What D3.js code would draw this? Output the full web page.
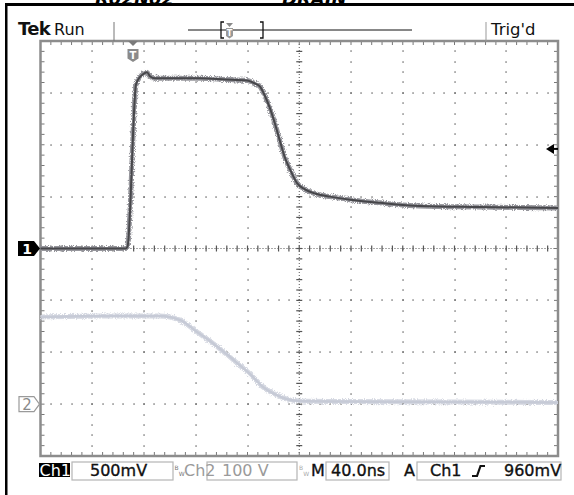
<!DOCTYPE html>
<html>
<head>
<meta charset="utf-8">
<script src="https://cdn.jsdelivr.net/npm/d3@7.9.0/dist/d3.min.js"></script>
<style>
  body { margin: 0; background: #fff; }
  svg { display: block; font-family: "DejaVu Sans", sans-serif; }
</style>
</head>
<body>
<svg id="scope" width="574" height="495"></svg>
<script>
/* ---------- data ---------- */
// time in ns from left edge of graticule (10 div x 40 ns)
const timeDomain = [0, 400];
const ch1Domain = [-2, 2];      // 8 div x 500 mV
const ch2Domain = [-100, 700];  // 8 div x 100 V, ground 3 div below centre

const ch1Time  = [0, 66, 67.3, 73.8, 76.1, 79.2, 82.3, 84.6, 88.5, 104, 123, 142.6, 159.6, 165.8, 169.7, 173.5, 177.4, 181.3, 185.2, 189.1, 193, 198.3, 204.4, 212.2, 223.8, 239.3, 262.4, 293.3, 339.7, 400];
const ch1Volts = [0, 0, 0.02, 1.58, 1.64, 1.68, 1.70, 1.66, 1.64, 1.64, 1.64, 1.63, 1.62, 1.59, 1.56, 1.47, 1.35, 1.20, 1.03, 0.87, 0.76, 0.63, 0.57, 0.53, 0.50, 0.47, 0.44, 0.41, 0.40, 0.39];

const ch2Time  = [0, 46, 92, 108, 121, 133, 144, 154, 162, 172, 183, 190, 201, 232, 400];
const ch2Volts = [168, 170, 170, 162, 139, 118, 96, 75, 58, 33, 17, 10, 6, 5, 3];

const triggerTime = 71.5;
const triggerLevel = 0.96;

const topLabels = { tek: 'Tek', state: 'Run', trig: "Trig'd" };
const cutLabels = ['R02N02', 'DRAIN'];
const ch1Scale = '500mV', ch2Scale = '100 V', timeScale = '40.0ns', trigLevelText = '960mV';

/* ---------- layout ---------- */
const svg = d3.select('#scope');
const plot = { left: 40.5, right: 558, top: 41, bottom: 456 };

const x  = d3.scaleLinear().domain(timeDomain).range([plot.left, plot.right]);
const y1 = d3.scaleLinear().domain(ch1Domain).range([plot.bottom, plot.top]);
const y2 = d3.scaleLinear().domain(ch2Domain).range([plot.bottom, plot.top]);

const defs = svg.append('defs');
const fuzz = defs.append('filter').attr('id', 'fuzz')
  .attr('filterUnits', 'userSpaceOnUse')
  .attr('x', 0).attr('y', 0).attr('width', 574).attr('height', 495);
fuzz.append('feTurbulence').attr('type', 'fractalNoise')
  .attr('baseFrequency', 1.1).attr('numOctaves', 2).attr('seed', 4).attr('result', 'n');
fuzz.append('feDisplacementMap').attr('in', 'SourceGraphic').attr('in2', 'n')
  .attr('scale', 5).attr('xChannelSelector', 'R').attr('yChannelSelector', 'G');

/* ---------- frame of the photo ---------- */
const cut = svg.append('g').attr('font-weight', 'bold').attr('font-style', 'italic').attr('font-size', 18);
cut.append('text').attr('x', 95).attr('y', 4.5).text(cutLabels[0]);
cut.append('text').attr('x', 282).attr('y', 4.5).text(cutLabels[1]);
svg.append('rect').attr('x', 5).attr('y', 3).attr('width', 569).attr('height', 3).attr('fill', '#000');
svg.append('rect').attr('x', 5).attr('y', 3).attr('width', 2.5).attr('height', 492).attr('fill', '#000');

/* ---------- graticule ---------- */
const grid = svg.append('g');
const xMajor = d3.range(timeDomain[0], timeDomain[1] + 1, 40);
const xMinor = d3.range(timeDomain[0], timeDomain[1] + 1, 8);
const yMajor = d3.range(0, 9).map(i => ch1Domain[0] + i * 0.5);
const yMinor = d3.range(0, 41).map(i => ch1Domain[0] + i * 0.1);

const dots = [];
yMajor.slice(1, -1).filter(v => v !== 0).forEach(v =>
  xMinor.slice(1, -1).forEach(t => dots.push([x(t), y1(v)])));
xMajor.slice(1, -1).filter(t => t !== 200).forEach(t =>
  yMinor.slice(1, -1).forEach(v => dots.push([x(t), y1(v)])));
grid.selectAll('rect.dot').data(dots).join('rect').attr('class', 'dot')
  .attr('x', d => Math.round(d[0]) - 0.6).attr('y', d => Math.round(d[1]) - 0.6)
  .attr('width', 1.3).attr('height', 1.3).attr('fill', '#5a5a5a');

// centre cross with fine ticks
const cx = x(200), cy = y1(0);
grid.append('line').attr('x1', cx).attr('x2', cx).attr('y1', plot.top).attr('y2', plot.bottom)
  .attr('stroke', '#555').attr('stroke-width', 1).attr('stroke-dasharray', '1 2');
grid.append('line').attr('y1', cy).attr('y2', cy).attr('x1', plot.left).attr('x2', plot.right)
  .attr('stroke', '#555').attr('stroke-width', 1).attr('stroke-dasharray', '1 2');
grid.selectAll('line.vt').data(yMinor.slice(1, -1)).join('line').attr('class', 'vt')
  .attr('x1', cx - 3).attr('x2', cx + 3).attr('y1', d => y1(d)).attr('y2', d => y1(d))
  .attr('stroke', '#555').attr('stroke-width', 1.2);
grid.selectAll('line.ht').data(xMinor.slice(1, -1)).join('line').attr('class', 'ht')
  .attr('y1', cy - 3).attr('y2', cy + 3).attr('x1', d => x(d)).attr('x2', d => x(d))
  .attr('stroke', '#555').attr('stroke-width', 1.2);

// border ticks
grid.selectAll('line.bt').data(xMinor).join('line').attr('class', 'bt')
  .attr('x1', d => x(d)).attr('x2', d => x(d)).attr('y1', plot.top).attr('y2', plot.top + 4)
  .attr('stroke', '#777');
grid.selectAll('line.bb').data(xMinor).join('line').attr('class', 'bb')
  .attr('x1', d => x(d)).attr('x2', d => x(d)).attr('y1', plot.bottom - 4).attr('y2', plot.bottom)
  .attr('stroke', '#777');
grid.selectAll('line.bl').data(yMinor).join('line').attr('class', 'bl')
  .attr('y1', d => y1(d)).attr('y2', d => y1(d)).attr('x1', plot.left).attr('x2', plot.left + 4)
  .attr('stroke', '#777');
grid.selectAll('line.br').data(yMinor).join('line').attr('class', 'br')
  .attr('y1', d => y1(d)).attr('y2', d => y1(d)).attr('x1', plot.right - 4).attr('x2', plot.right)
  .attr('stroke', '#777');
grid.append('rect').attr('x', plot.left).attr('y', plot.top)
  .attr('width', plot.right - plot.left).attr('height', plot.bottom - plot.top)
  .attr('fill', 'none').attr('stroke', '#8c8c8c').attr('stroke-width', 2.5);

/* ---------- traces ---------- */
const ch2 = ch2Time.map((t, i) => [t, ch2Volts[i]]);
const ch1 = ch1Time.map((t, i) => [t, ch1Volts[i]]);
const line2 = d3.line().x(d => x(d[0])).y(d => y2(d[1])).curve(d3.curveMonotoneX);
const line1 = d3.line().x(d => x(d[0])).y(d => y1(d[1])).curve(d3.curveMonotoneX);

svg.append('path').attr('d', line2(ch2)).attr('fill', 'none')
  .attr('stroke', '#d6d9e2').attr('stroke-width', 5).attr('filter', 'url(#fuzz)');
svg.append('path').attr('d', line2(ch2)).attr('fill', 'none')
  .attr('stroke', '#c6cad6').attr('stroke-width', 2.5);

svg.append('path').attr('d', line1(ch1)).attr('fill', 'none')
  .attr('stroke', '#96969c').attr('stroke-width', 5).attr('filter', 'url(#fuzz)');
svg.append('path').attr('d', line1(ch1)).attr('fill', 'none')
  .attr('stroke', '#46464a').attr('stroke-width', 2);

/* ---------- markers ---------- */
const m1 = y1(0);
svg.append('path').attr('d', `M18,${m1 - 7.5}H34L40,${m1}L34,${m1 + 7.5}H18Z`).attr('fill', '#000');
svg.append('text').attr('x', 27).attr('y', m1 + 5.5).attr('text-anchor', 'middle')
  .attr('font-size', 14).attr('font-weight', 'bold').attr('fill', '#fff').text('1');

const m2 = y2(0);
svg.append('path').attr('d', `M19,${m2 - 7.5}H34L39.5,${m2}L34,${m2 + 7.5}H19Z`)
  .attr('fill', '#fff').attr('stroke', '#9a9a9a').attr('stroke-width', 1.2);
svg.append('text').attr('x', 27).attr('y', m2 + 6).attr('text-anchor', 'middle')
  .attr('font-size', 15).attr('fill', '#8a8a8a').text('2');

const tx = x(triggerTime);
svg.append('path').attr('d', `M${tx - 5},${plot.top}H${tx + 5}L${tx},${plot.top + 5}Z`).attr('fill', '#7a7a7a');
svg.append('path').attr('d', `M${tx - 5.5},49H${tx + 5.5}V58.5L${tx},62L${tx - 5.5},58.5Z`).attr('fill', '#8a8a8a');
svg.append('text').attr('x', tx).attr('y', 58.5).attr('text-anchor', 'middle')
  .attr('font-size', 10).attr('font-weight', 'bold').attr('fill', '#fff').text('T');

const ty = y1(triggerLevel);
svg.append('path').attr('d', `M546,${ty}L554,${ty - 5}V${ty + 5}Z`).attr('fill', '#000');
svg.append('line').attr('x1', 553).attr('x2', plot.right).attr('y1', ty).attr('y2', ty)
  .attr('stroke', '#000').attr('stroke-width', 2);

/* ---------- top readout ---------- */
const topBar = svg.append('g').attr('fill', '#111');
topBar.append('text').attr('x', 18).attr('y', 35).attr('font-size', 18).attr('font-weight', 'bold')
  .attr('letter-spacing', -0.7).text(topLabels.tek);
topBar.append('text').attr('x', 54).attr('y', 35).attr('font-size', 16).text(topLabels.state);
topBar.append('text').attr('x', 491).attr('y', 35).attr('font-size', 16.5).text(topLabels.trig);
topBar.append('line').attr('x1', 114).attr('x2', 114).attr('y1', 22).attr('y2', plot.top).attr('stroke', '#777');
topBar.append('line').attr('x1', 486).attr('x2', 486).attr('y1', 22).attr('y2', plot.top).attr('stroke', '#999');
topBar.append('line').attr('x1', 188).attr('x2', 412).attr('y1', 30).attr('y2', 30).attr('stroke', '#111');
topBar.append('path').attr('d', 'M224,22H221V38H224').attr('fill', 'none').attr('stroke', '#111').attr('stroke-width', 1.3);
topBar.append('path').attr('d', 'M260,22H263V38H260').attr('fill', 'none').attr('stroke', '#111').attr('stroke-width', 1.3);
topBar.append('path').attr('d', 'M226,23H233L229.5,27Z').attr('fill', '#888');
topBar.append('path').attr('d', 'M226,28H233V36L229.5,38.5L226,36Z').attr('fill', '#999');
topBar.append('text').attr('x', 229.5).attr('y', 36).attr('text-anchor', 'middle')
  .attr('font-size', 8).attr('font-weight', 'bold').attr('fill', '#fff').text('T');

/* ---------- bottom readout ---------- */
const bot = svg.append('g').attr('font-size', 16);
const boxes = [[72, 173], [207, 297], [326, 389], [417, 561]];
bot.selectAll('rect.box').data(boxes).join('rect').attr('class', 'box')
  .attr('x', d => d[0]).attr('y', 462).attr('width', d => d[1] - d[0]).attr('height', 18)
  .attr('fill', 'none').attr('stroke', '#b5b5b5').attr('stroke-width', 1.2);
bot.append('rect').attr('x', 39).attr('y', 463).attr('width', 31).attr('height', 14).attr('fill', '#000');
bot.append('text').attr('x', 39.5).attr('y', 476).attr('fill', '#fff').text('Ch1');
const dark = { fill: '#111', stroke: '#111', 'stroke-width': 0.35 };
function label(txt, px, color) {
  const t = bot.append('text').attr('x', px).attr('y', 476).text(txt);
  const st = color ? { fill: color } : dark;
  Object.entries(st).forEach(([k, v]) => t.attr(k, v));
  return t;
}
label(ch1Scale, 90);
label('Ch2', 184, '#9a9a9a');
label(ch2Scale, 222, '#9a9a9a');
label('M', 311);
label(timeScale, 331);
label('A', 404);
label('Ch1', 430);
label(trigLevelText, 504);
// bandwidth-limit flags, small B above-left of W
[[174.5, '#777'], [299, '#aaa']].forEach(([bx, c]) => {
  bot.append('text').attr('x', bx).attr('y', 470).attr('font-size', 6).attr('fill', c).text('B');
  bot.append('text').attr('x', bx + 4.2).attr('y', 476).attr('font-size', 6).attr('fill', c).text('W');
});
bot.append('path').attr('d', 'M472,476H477L480.5,466H485').attr('fill', 'none')
  .attr('stroke', '#111').attr('stroke-width', 2.2);
</script>
</body>
</html>
